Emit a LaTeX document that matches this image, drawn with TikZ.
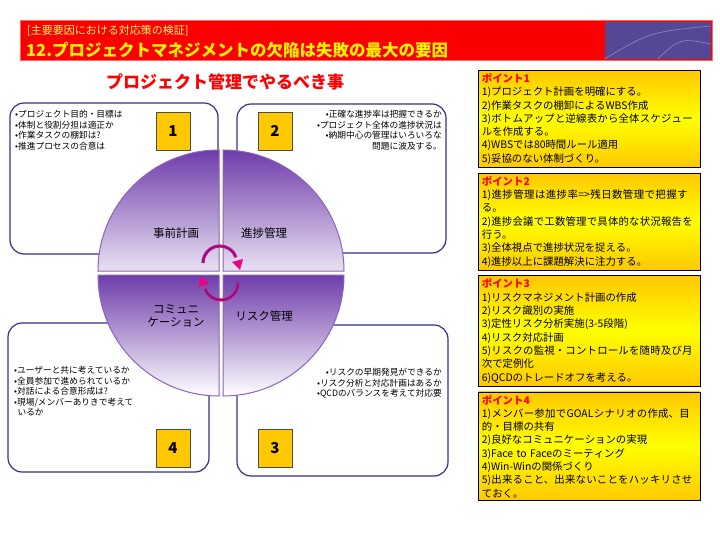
\documentclass[tikz,border=0pt]{standalone}
\usepackage{fontspec}
\setmainfont{Noto Sans CJK JP}
\XeTeXlinebreaklocale "ja"
\XeTeXlinebreakskip=0pt plus 1pt
\usepackage{tikz}
\usetikzlibrary{positioning}
\definecolor{hdred}{RGB}{250,0,0}
\definecolor{hdblue}{RGB}{84,72,150}
\definecolor{ringblue}{RGB}{50,50,140}
\definecolor{pie}{RGB}{110,60,170}
\definecolor{gold}{RGB}{255,200,0}
\tikzset{
  frame/.style={draw=ringblue, line width=1.2pt, rounded corners=14pt, fill=white},
  numbox/.style={draw=black!70, fill=gold, minimum width=34pt, minimum height=38pt, font=\bfseries\fontsize{15}{15}\selectfont},
  note/.style={font=\fontsize{8.7}{10.6}\selectfont, align=left, inner sep=0pt},
  pointbox/.style={draw=black, line width=0.8pt, top color=gold, bottom color=gold, middle color=yellow, minimum width=222pt, inner sep=3pt, anchor=north west, text width=215pt, align=left, font=\fontsize{10.4}{13.3}\selectfont},
  quarter/.style={draw=pie!80, line width=1pt},
  pielabel/.style={font=\fontsize{11.5}{12.5}\selectfont, align=center},
  cycle/.style={line width=3.2pt, draw=magenta!90!red}
}
\newcommand{\ptitle}[1]{{\color{red}\bfseries #1}}
\begin{document}
\begin{tikzpicture}[x=1pt, y=-1pt]
    \useasboundingbox (0,0) rectangle (720,540);

    % header band
    \node[fill=hdred, draw=red!60, minimum width=692pt, minimum height=40pt, anchor=north west, inner sep=0pt] (Header) at (20,20) {};
    \node[fill=hdblue, minimum width=106pt, minimum height=37pt, anchor=north east, inner sep=0pt] (Globe) at (711,21.5) {};
    \draw[white!40!hdblue, line width=0.5pt] (Globe.south west) .. controls (650,32) .. (711,26);
    \draw[white!40!hdblue, line width=0.5pt] (Globe.south) .. controls (680,38) .. (711,44);
    \node[anchor=west, text=yellow!60, font=\fontsize{11}{11}\selectfont, inner sep=0pt] (Kicker) at (27,31) {[主要要因における対応策の検証]};
    \node[anchor=west, text=yellow, font=\bfseries\fontsize{16.5}{16.5}\selectfont, inner sep=0pt] (Title) at (26,50) {12.プロジェクトマネジメントの欠陥は失敗の最大の要因};

    % subtitle
    \node[text=red, font=\bfseries\fontsize{17}{17}\selectfont] (Subtitle) at (225,82) {プロジェクト管理でやるべき事};

    % quadrant frames
    \draw[frame] (10,103) rectangle (218,254);
    \draw[frame] (237,104) rectangle (446,253);
    \draw[frame] (8,323) rectangle (209,472);
    \draw[frame] (237,325) rectangle (448,476);

    % quadrant notes
    \node[note, anchor=north west] (Note1) at (15,110) {•プロジェクト目的・目標は\\•体制と役割分担は適正か\\•作業タスクの棚卸は?\\•推進プロセスの合意は};
    \node[note, anchor=north east, align=right] (Note2) at (442,110) {•正確な進捗率は把握できるか\\•プロジェクト全体の進捗状況は\\•納期中心の管理はいろいろな\\問題に波及する。};
    \node[note, anchor=north west] (Note4) at (14,366) {•ユーザーと共に考えているか\\•全員参加で進められているか\\•対話による合意形成は?\\•現場/メンバーありきで考えて\\\ \,いるか};
    \node[note, anchor=north east, align=right] (Note3) at (442,368) {•リスクの早期発見ができるか\\•リスク分析と対応計画はあるか\\•QCDのバランスを考えて対応要};

    % number boxes
    \node[numbox] (N1) at (173,131) {1};
    \node[numbox] (N2) at (275,131) {2};
    \node[numbox] (N4) at (173,448) {4};
    \node[numbox] (N3) at (275,448) {3};

    % pie quarters
    \draw[quarter, top color=pie, bottom color=white!85!pie] (219,271) -- (98,271) arc[start angle=180, end angle=270, radius=121] -- cycle;
    \draw[quarter, top color=pie, bottom color=white!85!pie] (223,271) -- (223,150) arc[start angle=270, end angle=360, radius=121] -- cycle;
    \draw[quarter, top color=pie, bottom color=white] (219,275) -- (98,275) arc[start angle=180, end angle=90, radius=121] -- cycle;
    \draw[quarter, top color=pie, bottom color=white] (223,275) -- (223,396) arc[start angle=90, end angle=0, radius=121] -- cycle;

    \node[pielabel] (Plan) at (176,233) {事前計画};
    \node[pielabel] (Progress) at (264,233) {進捗管理};
    \node[pielabel] (Comm) at (176,316) {コミュニ\\ケーション};
    \node[pielabel] (Risk) at (264,316) {リスク管理};

    % cycle arrows
    \draw[cycle] (203,263) arc[start angle=180, end angle=340, radius=17];
    \draw[cycle, draw=ringblue, line width=1pt] (203,263) arc[start angle=180, end angle=340, radius=17];
    \fill[magenta!90!red] (232,262) -- (243,259) -- (240,270) -- cycle;
    \draw[cycle] (238,283) arc[start angle=0, end angle=160, radius=17];
    \draw[cycle, draw=ringblue, line width=1pt] (238,283) arc[start angle=0, end angle=160, radius=17];
    \fill[magenta!90!red] (209,284) -- (198,287) -- (201,276) -- cycle;

    % point panels
    \node[pointbox] (P1) at (478,70) {\ptitle{ポイント1}\\1)プロジェクト計画を明確にする。\\2)作業タスクの棚卸によるWBS作成\\3)ボトムアップと逆線表から全体スケジュールを作成する。\\4)WBSでは80時間ルール適用\\5)妥協のない体制づくり。};
    \node[pointbox, below=5pt of P1.south west, anchor=north west] (P2) {\ptitle{ポイント2}\\1)進捗管理は進捗率=>残日数管理で把握する。\\2)進捗会議で工数管理で具体的な状況報告を行う。\\3)全体視点で進捗状況を捉える。\\4)進捗以上に課題解決に注力する。};
    \node[pointbox, below=5pt of P2.south west, anchor=north west] (P3) {\ptitle{ポイント3}\\1)リスクマネジメント計画の作成\\2)リスク識別の実施\\3)定性リスク分析実施(3-5段階)\\4)リスク対応計画\\5)リスクの監視・コントロールを随時及び月次で定例化\\6)QCDのトレードオフを考える。};
    \node[pointbox, below=5pt of P3.south west, anchor=north west] (P4) {\ptitle{ポイント4}\\1)メンバー参加でGOALシナリオの作成、目的・目標の共有\\2)良好なコミュニケーションの実現\\3)Face to Faceのミーティング\\4)Win-Winの関係づくり\\5)出来ること、出来ないことをハッキリさせておく。};

\end{tikzpicture}
\end{document}
